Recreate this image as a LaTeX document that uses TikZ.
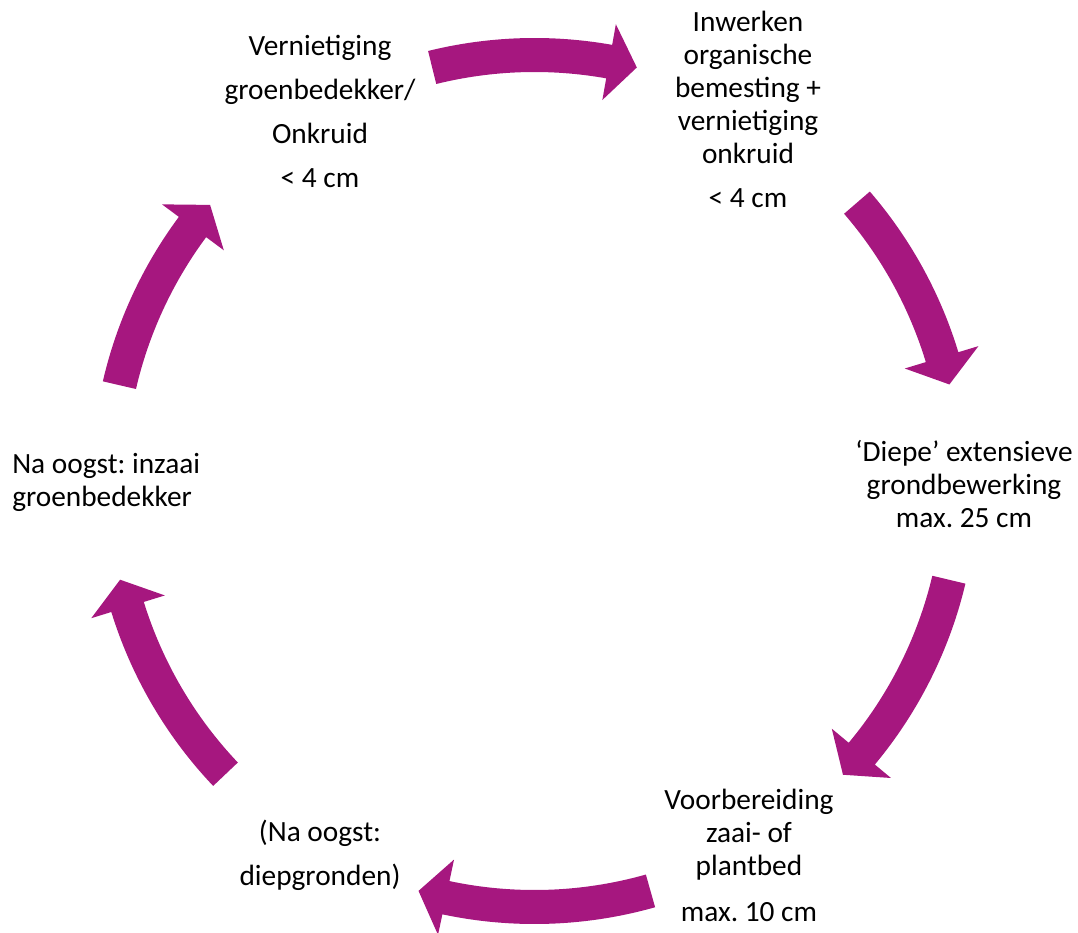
\documentclass[tikz,border=0pt]{standalone}
\usepackage{fontspec}
\setmainfont{Carlito}
\frenchspacing
\definecolor{cyc}{RGB}{166,23,127}
\newcommand\cyclearrow[2]{% tail angle, tip angle
  \pgfmathsetmacro\hb{#2+3.8}
  \fill[cycarrow] (#1:332.25pt) arc[start angle=#1, end angle=\hb, radius=332.25pt]
    -- (\hb:348pt) -- (#2:319.5pt) -- (\hb:290.25pt) -- (\hb:306.75pt)
    arc[start angle=\hb, end angle=#1, radius=306.75pt] -- cycle;}
\begin{document}
\begin{tikzpicture}[x=0.75pt,y=0.75pt,
  lbl/.style={font=\fontsize{22pt}{24.75pt}\selectfont\frenchspacing, align=center, inner sep=0pt},
  cycarrow/.style={fill=cyc}]
\useasboundingbox (-534.5,-451) rectangle (543.5,481);
\coordinate (c) at (0,0);
\cyclearrow{103.9}{76.1}
\cyclearrow{40.8}{13.1}
\cyclearrow{-13.4}{-43.6}
\cyclearrow{-74.2}{-105.8}
\cyclearrow{-136.5}{-166.6}
\cyclearrow{167}{139.6}
\node[lbl] (n1) at (-214.5,370) {Vernietiging\\[8.25pt]groenbedekker/\\[8.25pt]Onkruid\\[8.25pt]< 4 cm};
\node[lbl] (n2) at (213.5,371.5) {Inwerken\\organische\\bemesting +\\vernietiging\\onkruid\\[8.25pt]< 4 cm};
\node[lbl] (n3) at (429.5,-3.5) {‘Diepe’ extensieve\\grondbewerking\\max. 25 cm};
\node[lbl] (n4) at (214.5,-374) {Voorbereiding\\zaai- of\\plantbed\\[9.75pt]max. 10 cm};
\node[lbl] (n5) at (-214.5,-374.5) {(Na oogst:\\[8.25pt]diepgronden)};
\node[lbl, align=left, anchor=west] (n6) at (-522.5,-1.5) {Na oogst: inzaai\\groenbedekker};
\end{tikzpicture}
\end{document}
